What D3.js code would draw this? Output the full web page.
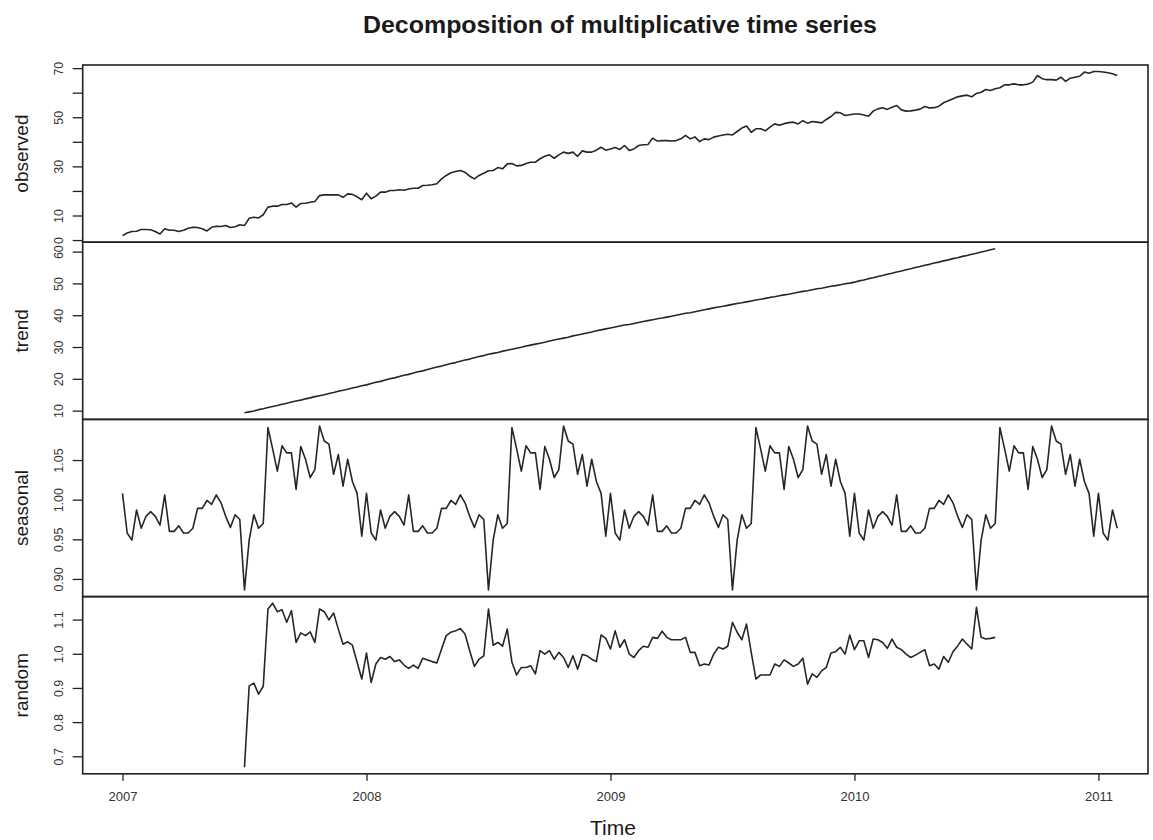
<!DOCTYPE html>
<html>
<head>
<meta charset="utf-8">
<script src="https://cdn.jsdelivr.net/npm/d3@7"></script>
<style>
  body { margin: 0; background: #fff; }
  svg text { font-family: "Liberation Sans", Arial, Helvetica, sans-serif; fill: #1a1a1a; }
</style>
</head>
<body>
<svg width="1153" height="840"></svg>
<script>
// Weekly series (frequency 52) starting in 2007
var startYear = 2007;
var frequency = 52;

var observed = [
  1.8, 2.9, 3.5, 3.6, 4.3, 4.3, 4.2, 3.5, 2.5, 4.6,
  4.0, 4.0, 3.5, 4.0, 4.8, 5.2, 5.1, 4.6, 3.7, 5.2,
  5.6, 5.5, 5.9, 5.1, 5.4, 6.2, 5.9, 8.9, 9.3, 9.0,
  10.3, 13.4, 13.8, 13.8, 14.5, 14.5, 15.1, 13.4, 14.9, 15.0,
  15.4, 15.7, 18.1, 18.4, 18.4, 18.4, 18.4, 17.4, 18.8, 18.6,
  17.6, 16.4, 19.1, 16.8, 17.9, 19.5, 19.5, 20.2, 20.2, 20.5,
  20.3, 20.8, 21.1, 21.1, 22.2, 22.3, 22.5, 22.9, 24.9, 26.3,
  27.4, 27.9, 28.3, 27.6, 26.0, 24.9, 26.3, 27.2, 28.2, 28.3,
  29.5, 29.0, 31.0, 31.2, 30.2, 30.4, 31.2, 31.7, 31.7, 33.1,
  34.1, 34.7, 33.3, 34.7, 35.8, 35.3, 35.8, 34.1, 36.3, 35.8,
  35.8, 36.6, 37.8, 36.6, 37.1, 37.7, 36.9, 38.5, 36.5, 37.1,
  38.5, 38.8, 38.9, 41.5, 40.3, 40.5, 40.5, 40.3, 40.5, 41.2,
  42.6, 41.2, 42.0, 40.1, 41.2, 40.9, 41.9, 42.4, 42.8, 43.1,
  42.8, 44.2, 45.6, 46.4, 43.9, 45.3, 45.3, 44.5, 46.0, 47.3,
  46.7, 47.4, 47.8, 48.0, 47.3, 48.6, 47.6, 48.3, 48.0, 47.7,
  49.1, 50.3, 52.0, 51.8, 50.7, 51.0, 51.3, 51.3, 50.9, 50.4,
  52.5, 53.4, 53.9, 53.2, 54.1, 54.8, 53.0, 52.5, 52.6, 52.9,
  53.3, 54.4, 53.8, 53.9, 54.5, 55.9, 56.7, 57.5, 58.3, 58.7,
  59.0, 58.3, 59.7, 60.2, 61.3, 60.9, 61.6, 62.0, 63.2, 63.2,
  63.6, 63.2, 63.2, 63.5, 64.3, 67.0, 65.7, 65.3, 65.3, 65.1,
  66.3, 64.6, 65.9, 66.3, 66.7, 68.4, 67.9, 68.6, 68.6, 68.4,
  68.1, 67.7, 67.0
];

// trend and random exist from week 26 to week 186
var trendStart = 26;
var trend = [
  9.3, 9.6, 9.9, 10.3, 10.6, 11.0, 11.3, 11.6, 12.0, 12.3,
  12.7, 13.0, 13.3, 13.7, 14.0, 14.4, 14.7, 15.0, 15.4, 15.7,
  16.1, 16.4, 16.7, 17.1, 17.4, 17.8, 18.1, 18.5, 18.9, 19.2,
  19.6, 20.0, 20.3, 20.7, 21.1, 21.4, 21.8, 22.2, 22.5, 22.9,
  23.3, 23.7, 24.0, 24.4, 24.8, 25.1, 25.5, 25.9, 26.2, 26.6,
  27.0, 27.3, 27.7, 28.0, 28.3, 28.7, 29.0, 29.3, 29.6, 29.9,
  30.3, 30.6, 30.9, 31.2, 31.5, 31.9, 32.2, 32.5, 32.8, 33.1,
  33.5, 33.8, 34.1, 34.4, 34.7, 35.1, 35.4, 35.7, 36.0, 36.3,
  36.6, 36.9, 37.1, 37.4, 37.7, 38.0, 38.3, 38.6, 38.9, 39.1,
  39.4, 39.7, 40.0, 40.3, 40.6, 40.8, 41.1, 41.4, 41.7, 42.0,
  42.3, 42.6, 42.8, 43.1, 43.4, 43.7, 43.9, 44.2, 44.5, 44.8,
  45.0, 45.3, 45.6, 45.8, 46.1, 46.4, 46.6, 46.9, 47.2, 47.5,
  47.7, 48.0, 48.3, 48.5, 48.8, 49.1, 49.3, 49.6, 49.9, 50.1,
  50.4, 50.8, 51.1, 51.5, 51.8, 52.2, 52.5, 52.9, 53.2, 53.6,
  53.9, 54.3, 54.6, 55.0, 55.3, 55.7, 56.0, 56.4, 56.7, 57.1,
  57.4, 57.8, 58.1, 58.5, 58.8, 59.2, 59.5, 59.9, 60.2, 60.6,
  60.9
];

// one 52-week seasonal cycle (figure repeats it)
var seasonalCycle = [
  1.008, 0.958, 0.949, 0.987, 0.964, 0.979, 0.985, 0.979, 0.968, 1.006,
  0.960, 0.960, 0.967, 0.958, 0.958, 0.964, 0.989, 0.989, 0.999, 0.994,
  1.006, 0.996, 0.979, 0.965, 0.981, 0.975, 0.886, 0.949, 0.981, 0.964,
  0.970, 1.091, 1.064, 1.036, 1.068, 1.059, 1.059, 1.013, 1.067, 1.051,
  1.028, 1.038, 1.093, 1.074, 1.070, 1.032, 1.057, 1.017, 1.051, 1.023,
  1.008, 0.954
];

var random = [
  0.668, 0.906, 0.914, 0.882,
  0.905, 1.131, 1.148, 1.123, 1.129, 1.092, 1.126, 1.033, 1.061, 1.053,
  1.064, 1.033, 1.131, 1.123, 1.099, 1.119, 1.072, 1.028, 1.035, 1.025,
  0.975, 0.926, 1.002, 0.916, 0.970, 0.989, 0.984, 0.992, 0.977, 0.982,
  0.967, 0.957, 0.967, 0.957, 0.987, 0.982, 0.977, 0.973, 1.014, 1.053,
  1.063, 1.067, 1.074, 1.058, 1.009, 0.963, 0.984, 0.994, 1.131, 1.025,
  1.033, 1.022, 1.072, 0.975, 0.938, 0.960, 0.960, 0.965, 0.941, 1.009,
  0.999, 1.009, 0.984, 1.004, 0.989, 0.960, 0.994, 0.955, 0.998, 0.994,
  0.984, 0.977, 1.055, 1.045, 1.014, 1.067, 1.019, 1.041, 0.999, 0.989,
  1.009, 1.022, 1.019, 1.048, 1.045, 1.066, 1.048, 1.041, 1.041, 1.041,
  1.048, 1.004, 1.004, 0.965, 0.970, 0.967, 0.999, 1.019, 1.014, 1.022,
  1.092, 1.063, 1.041, 1.087, 1.004, 0.926, 0.938, 0.938, 0.938, 0.970,
  0.963, 0.982, 0.973, 0.963, 0.970, 0.987, 0.911, 0.941, 0.931, 0.950,
  0.960, 1.002, 1.006, 1.019, 0.999, 1.055, 1.012, 1.038, 1.038, 0.989,
  1.043, 1.041, 1.033, 1.016, 1.043, 1.019, 1.012, 0.999, 0.989, 0.996,
  1.004, 1.012, 0.965, 0.970, 0.955, 0.992, 0.975, 1.006, 1.023, 1.043,
  1.028, 1.014, 1.136, 1.048, 1.043, 1.045, 1.048
];

var yearTicks = [2007, 2008, 2009, 2010, 2011];
var observedTicks = [0, 10, 20, 30, 40, 50, 60, 70];
var observedLabels = [0, 10, 30, 50, 70];
var trendTicks = [10, 20, 30, 40, 50, 60];
var seasonalTicks = [0.90, 0.95, 1.00, 1.05];
var randomTicks = [0.7, 0.8, 0.9, 1.0, 1.1];

// seasonal figure repeats the cycle over the whole observed span
var seasonal = observed.map(function (d, i) { return seasonalCycle[i % frequency]; });

function series(values, offset) {
  return values.map(function (v, i) {
    return { t: startYear + (i + offset) / frequency, v: v };
  });
}

var svg = d3.select("svg");
var plotLeft = 82.7, plotRight = 1157, boxRight = 1148, plotTop = 65, panelH = 177.2;

// x range like R: 4% padding on each side
var tMin = startYear, tMax = startYear + (observed.length - 1) / frequency;
var tPad = (tMax - tMin) * 0.04;
var x = d3.scaleLinear().domain([tMin - tPad, tMax + tPad]).range([plotLeft, plotRight]);

var panels = [
  { name: "observed", data: series(observed, 0), ticks: observedTicks, labels: observedLabels, fmt: d3.format("d") },
  { name: "trend", data: series(trend, trendStart), ticks: trendTicks, labels: trendTicks, fmt: d3.format("d") },
  { name: "seasonal", data: series(seasonal, 0), ticks: seasonalTicks, labels: seasonalTicks, fmt: d3.format(".2f") },
  { name: "random", data: series(random, trendStart), ticks: randomTicks, labels: randomTicks, fmt: d3.format(".1f") }
];

panels.forEach(function (p, k) {
  var y0 = plotTop + k * panelH, y1 = y0 + panelH;
  var ext = d3.extent(p.data, function (d) { return d.v; });
  var pad = (ext[1] - ext[0]) * 0.04;
  var y = d3.scaleLinear().domain([ext[0] - pad, ext[1] + pad]).range([y1, y0]);

  var g = svg.append("g").attr("class", "panel");

  var line = d3.line()
    .x(function (d) { return x(d.t); })
    .y(function (d) { return y(d.v); });

  g.append("path")
    .datum(p.data)
    .attr("fill", "none")
    .attr("stroke", "#262626")
    .attr("stroke-width", 1.6)
    .attr("stroke-linejoin", "round")
    .attr("d", line);

  // y axis, rotated labels like R
  var axis = g.append("g")
    .attr("transform", "translate(" + plotLeft + ",0)")
    .call(d3.axisLeft(y).tickValues(p.ticks).tickSize(10).tickFormat(function (d) {
      return p.labels.indexOf(d) >= 0 ? p.fmt(d) : "";
    }));
  axis.select(".domain").remove();
  axis.selectAll(".tick line").attr("stroke", "#222").attr("stroke-width", 1.3);
  axis.selectAll(".tick text")
    .attr("transform", "rotate(-90)")
    .attr("x", 0)
    .attr("y", -20)
    .attr("dy", 0)
    .attr("text-anchor", "middle")
    .style("font-size", "12.5px")
    .style("font-family", null)
    .style("fill", "#333");

  g.append("text")
    .attr("transform", "translate(28," + (y0 + panelH / 2) + ") rotate(-90)")
    .attr("text-anchor", "middle")
    .style("font-size", "19px")
    .text(p.name);

  g.append("rect")
    .attr("x", plotLeft).attr("y", y0)
    .attr("width", boxRight - plotLeft).attr("height", panelH)
    .attr("fill", "none")
    .attr("stroke", "#222")
    .attr("stroke-width", 1.6);
});

// x axis under the last panel
var xAxis = svg.append("g")
  .attr("transform", "translate(0," + (plotTop + 4 * panelH) + ")")
  .call(d3.axisBottom(x).tickValues(yearTicks).tickSize(7).tickPadding(11).tickFormat(d3.format("d")));
xAxis.select(".domain").remove();
xAxis.selectAll(".tick line").attr("stroke", "#222").attr("stroke-width", 1.3);
xAxis.selectAll(".tick text").style("font-size", "13px").style("font-family", null).style("fill", "#333");

svg.append("text")
  .attr("x", 620).attr("y", 33)
  .attr("text-anchor", "middle")
  .attr("textLength", 514)
  .attr("lengthAdjust", "spacingAndGlyphs")
  .style("font-size", "23px")
  .style("font-weight", "bold")
  .text("Decomposition of multiplicative time series");

svg.append("text")
  .attr("x", 613).attr("y", 835)
  .attr("text-anchor", "middle")
  .style("font-size", "21px")
  .text("Time");
</script>
</body>
</html>
